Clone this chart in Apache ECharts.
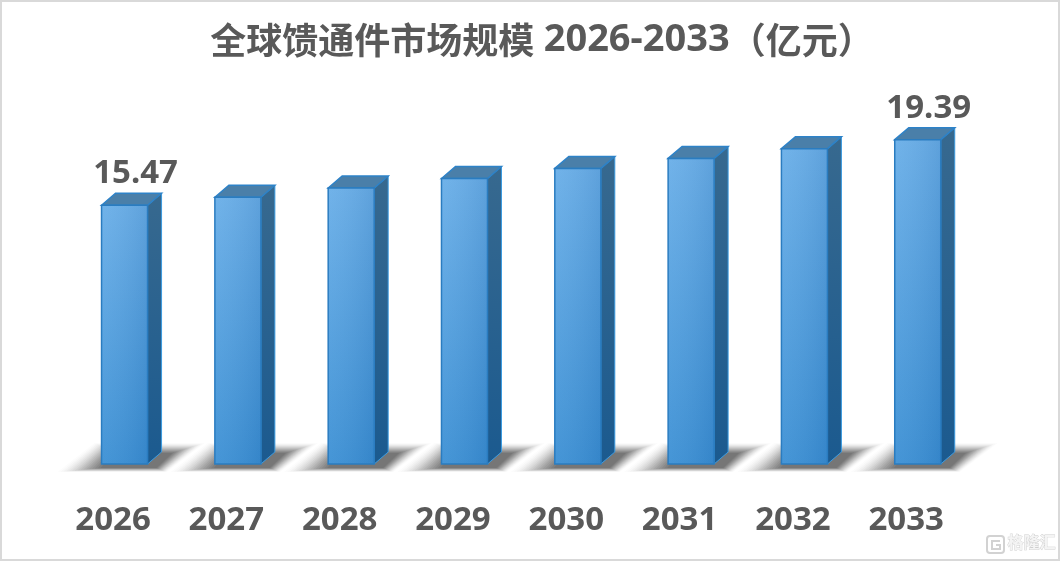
<!DOCTYPE html>
<html><head><meta charset="utf-8">
<style>html,body{margin:0;padding:0;background:#fff}#c{width:1060px;height:561px}</style>
<script src="https://cdn.jsdelivr.net/npm/echarts@6/dist/echarts.min.js"></script>
</head><body><div id="c"></div>
<script>
const categories = ['2026','2027','2028','2029','2030','2031','2032','2033'];
const values = [15.47,15.95,16.5,17.07,17.67,18.27,18.85,19.39];
const labelled = ['2026','2033'];
const titleCjk = '全球馈通件市场规模';
const titleRange = '2026-2033';
const titleUnit = '（亿元）';
const watermark = '格隆汇';

const chart = echarts.init(document.getElementById('c'), null, {renderer:'canvas'});
const OFF = 11.5, HW = 23, DX = 14, DY = 12, LAYERS = 16;
const lg = (x0,y0,x1,y1,stops)=>new echarts.graphic.LinearGradient(x0,y0,x1,y1,stops.map(s=>({offset:s[0],color:s[1]})));
const OUTER = [[-67,8],[-30,-21],[80,-21],[42,8]];
const INNER = [[-24,4],[-12,-11],[48,-11],[32,4]];

function renderShadow(params, api){
  const p = api.coord([api.value(0), 0]);
  const cx = p[0]+OFF, by = p[1];
  const kids = [];
  for(let k=0;k<LAYERS;k++){
    const f = k/(LAYERS-1);
    const pts = OUTER.map((o,i)=>[cx+o[0]+(INNER[i][0]-o[0])*f, by+o[1]+(INNER[i][1]-o[1])*f]);
    kids.push({type:'polygon',shape:{points:pts},style:{fill:'rgba(45,45,45,'+(0.015+0.09*f).toFixed(3)+')'}});
  }
  return {type:'group',silent:true,children:kids};
}
function renderBar(params, api){
  const p0 = api.coord([api.value(0), 0]);
  const p1 = api.coord([api.value(0), api.value(1)]);
  const l = p0[0]+OFF-HW, r = p0[0]+OFF+HW, t = p1[1], b = p0[1];
  const kids = [
    {type:'polygon',shape:{points:[[r,t],[r+DX,t-DY],[r+DX,b-DY],[r,b]]},
      style:{fill:lg(0,0,0,1,[[0,'#37698f'],[1,'#1b5a8f']]),stroke:'#3b9be0',lineWidth:1}},
    {type:'polygon',shape:{points:[[l,t],[l+DX,t-DY],[r+DX,t-DY],[r,t]]},
      style:{fill:'#4a7fa9',stroke:'#2d82c8',lineWidth:1.5}},
    {type:'rect',shape:{x:l,y:t,width:r-l,height:b-t},
      style:{fill:lg(0,0,0,1,[[0,'#68aee8'],[1,'#3a8fd4']])}},
    {type:'rect',shape:{x:l,y:t,width:r-l,height:b-t},
      style:{fill:lg(0,0,1,0,[[0,'rgba(255,255,255,0.06)'],[1,'rgba(0,40,100,0.10)']]),stroke:'#2a7cc0',lineWidth:1.5}}
  ];
  if(labelled.indexOf(categories[api.value(0)])>=0){
    kids.push({type:'text',style:{text:api.value(1).toFixed(2),x:(l+r)/2+11,y:t-15,align:'center',verticalAlign:'bottom',
      font:'bold 33px "Noto Sans"',fill:'#595959'}});
  }
  return {type:'group',children:kids};
}
const idx = categories.map((c,i)=>[i,values[i]]);
chart.setOption({
  animation:false,
  backgroundColor:'#fff',
  title:{text:'{c|'+titleCjk+'} {d|'+titleRange+'}{c|'+titleUnit+'}',left:537,top:16,textAlign:'center',
    textStyle:{rich:{
      c:{fontFamily:'"Noto Sans CJK SC"',fontWeight:'bold',fontSize:36,color:'#595959'},
      d:{fontFamily:'"Noto Sans"',fontWeight:'bold',fontSize:38,color:'#595959'}
    },fontFamily:'"Noto Sans"',fontWeight:'bold',fontSize:36,color:'#595959'}},
  grid:{left:56.4,right:97.1,top:96,bottom:97},
  xAxis:{type:'category',data:categories,axisLine:{show:false},axisTick:{show:false},splitLine:{show:false},
    axisLabel:{margin:40,fontFamily:'"Noto Sans"',fontWeight:'bold',fontSize:33,color:'#595959'}},
  yAxis:{type:'value',min:0,max:22,show:false},
  series:[
    {type:'custom',renderItem:renderShadow,data:idx,z:1,silent:true,clip:false},
    {type:'custom',renderItem:renderBar,data:idx,z:3,clip:false}
  ],
  graphic:[
    {type:'rect',shape:{x:1,y:1,width:1058,height:559},style:{fill:'none',stroke:'#d9d9d9',lineWidth:2},z:10,silent:true},
    {type:'text',left:1007,top:534,style:{text:watermark,font:'bold 16px "Noto Sans CJK SC"',fill:'#f4f4f4',stroke:'#cfcfcf',lineWidth:0.8},z:10,silent:true},
    {type:'rect',shape:{x:987,y:536,width:17,height:17,r:3},style:{fill:'none',stroke:'#d2d2d2',lineWidth:2},z:10,silent:true},
    {type:'polyline',shape:{points:[[1000,541],[992,541],[992,549],[1000,549],[1000,545],[996,545]]},style:{fill:'none',stroke:'#d2d2d2',lineWidth:2},z:10,silent:true}
  ]
});
</script></body></html>
